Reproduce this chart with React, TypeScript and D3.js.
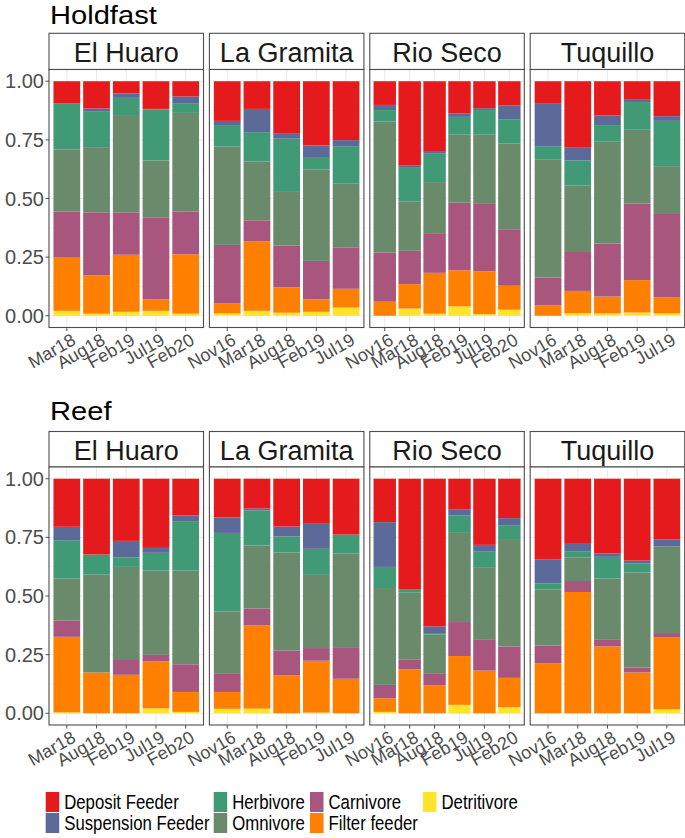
import React from "react";
import * as d3 from "d3";

// Stack order bottom -> top
const CATEGORIES = ["Detritivore", "Filter feeder", "Carnivore", "Omnivore", "Herbivore", "Suspension Feeder", "Deposit Feeder"];
const COLORS = ["#FFE42A", "#FF7F00", "#A8567E", "#6A8A6C", "#3F9A75", "#5B6A99", "#E41A1C"];

const SITES = ["El Huaro", "La Gramita", "Rio Seco", "Tuquillo"];
const HABITATS = ["Holdfast", "Reef"];

const DATES_EL_HUARO = ["Mar18", "Aug18", "Feb19", "Jul19", "Feb20"];
const DATES_LA_GRAMITA = ["Nov16", "Mar18", "Aug18", "Feb19", "Jul19"];
const DATES_RIO_SECO = ["Nov16", "Mar18", "Aug18", "Feb19", "Jul19", "Feb20"];
const DATES_TUQUILLO = ["Nov16", "Mar18", "Aug18", "Feb19", "Jul19"];

const Y_TICKS = [0, 0.25, 0.5, 0.75, 1];
const Y_TICK_LABELS = ["0.00", "0.25", "0.50", "0.75", "1.00"];

// proportions per bar: [Detritivore, Filter, Carnivore, Omnivore, Herbivore, Suspension, Deposit]
const HOLDFAST_EL_HUARO = [
  [0.021, 0.227, 0.196, 0.265, 0.196, 0.0, 0.095],
  [0.009, 0.164, 0.268, 0.278, 0.151, 0.014, 0.116],
  [0.017, 0.243, 0.181, 0.411, 0.077, 0.019, 0.052],
  [0.021, 0.049, 0.35, 0.242, 0.217, 0.003, 0.118],
  [0.009, 0.253, 0.183, 0.42, 0.039, 0.031, 0.065],
];
const HOLDFAST_LA_GRAMITA = [
  [0.01, 0.044, 0.248, 0.419, 0.092, 0.018, 0.169],
  [0.021, 0.297, 0.089, 0.251, 0.125, 0.099, 0.118],
  [0.013, 0.108, 0.178, 0.229, 0.227, 0.021, 0.224],
  [0.017, 0.053, 0.164, 0.39, 0.053, 0.049, 0.274],
  [0.035, 0.08, 0.177, 0.271, 0.16, 0.026, 0.251],
];
const HOLDFAST_RIO_SECO = [
  [0.0, 0.06, 0.21, 0.558, 0.049, 0.022, 0.101],
  [0.031, 0.104, 0.142, 0.211, 0.146, 0.006, 0.36],
  [0.009, 0.174, 0.166, 0.221, 0.121, 0.008, 0.301],
  [0.04, 0.154, 0.288, 0.29, 0.076, 0.014, 0.138],
  [0.007, 0.183, 0.287, 0.295, 0.105, 0.008, 0.115],
  [0.026, 0.102, 0.241, 0.366, 0.103, 0.058, 0.104],
];
const HOLDFAST_TUQUILLO = [
  [0.0, 0.044, 0.119, 0.502, 0.058, 0.181, 0.096],
  [0.011, 0.095, 0.166, 0.283, 0.107, 0.057, 0.281],
  [0.01, 0.072, 0.226, 0.434, 0.071, 0.041, 0.146],
  [0.014, 0.138, 0.327, 0.314, 0.118, 0.01, 0.079],
  [0.01, 0.069, 0.355, 0.204, 0.193, 0.02, 0.149],
];
const REEF_EL_HUARO = [
  [0.004, 0.322, 0.07, 0.178, 0.164, 0.057, 0.205],
  [0.0, 0.174, 0.0, 0.417, 0.086, 0.0, 0.323],
  [0.0, 0.164, 0.067, 0.393, 0.041, 0.07, 0.265],
  [0.021, 0.2, 0.028, 0.359, 0.076, 0.021, 0.295],
  [0.006, 0.085, 0.118, 0.399, 0.211, 0.024, 0.157],
];
const REEF_LA_GRAMITA = [
  [0.019, 0.072, 0.077, 0.266, 0.335, 0.066, 0.165],
  [0.02, 0.355, 0.072, 0.268, 0.15, 0.008, 0.127],
  [0.0, 0.161, 0.107, 0.417, 0.069, 0.042, 0.204],
  [0.003, 0.221, 0.054, 0.312, 0.111, 0.11, 0.189],
  [0.0, 0.147, 0.135, 0.4, 0.08, 0.0, 0.238],
];
const REEF_RIO_SECO = [
  [0.006, 0.058, 0.057, 0.413, 0.09, 0.191, 0.185],
  [0.0, 0.187, 0.041, 0.286, 0.013, 0.0, 0.473],
  [0.0, 0.12, 0.048, 0.167, 0.007, 0.028, 0.63],
  [0.036, 0.208, 0.145, 0.38, 0.074, 0.027, 0.13],
  [0.0, 0.182, 0.131, 0.31, 0.068, 0.027, 0.282],
  [0.026, 0.125, 0.134, 0.454, 0.063, 0.03, 0.168],
];
const REEF_TUQUILLO = [
  [0.0, 0.212, 0.077, 0.239, 0.025, 0.102, 0.345],
  [0.0, 0.517, 0.047, 0.101, 0.026, 0.035, 0.274],
  [0.0, 0.285, 0.028, 0.262, 0.092, 0.014, 0.319],
  [0.0, 0.174, 0.021, 0.405, 0.038, 0.013, 0.349],
  [0.017, 0.308, 0.017, 0.369, 0.0, 0.031, 0.258],
];

const SITE_DATES = [DATES_EL_HUARO, DATES_LA_GRAMITA, DATES_RIO_SECO, DATES_TUQUILLO];
const HABITAT_VALUES = [
  [HOLDFAST_EL_HUARO, HOLDFAST_LA_GRAMITA, HOLDFAST_RIO_SECO, HOLDFAST_TUQUILLO],
  [REEF_EL_HUARO, REEF_LA_GRAMITA, REEF_RIO_SECO, REEF_TUQUILLO],
];

const LEGEND_ORDER = [
  ["Deposit Feeder", "Suspension Feeder"],
  ["Herbivore", "Omnivore"],
  ["Carnivore", "Filter feeder"],
  ["Detritivore"],
];

const FONT = "'Liberation Sans', Arial, sans-serif";
const W = 685;
const H = 838;
const PANEL_X0 = 49;
const PANEL_W = 154.5;
const PANEL_GAP = 5.9;
const ROWS = [
  { titleY: 24, stripTop: 33.3, plotTop: 69.5, plotBottom: 327.5 },
  { titleY: 420, stripTop: 431.5, plotTop: 467, plotBottom: 725 },
];
const BORDER = "#4d4d4d";
const AXIS_TEXT = "#4d4d4d";
const GRID = "#ebebeb";

function Panel({ x0, row, dates, values, site }) {
  const x1 = x0 + PANEL_W;
  const n = dates.length;
  const x = d3.scaleLinear().domain([0.4, n + 0.6]).range([x0, x1]);
  const y = d3.scaleLinear().domain([-0.05, 1.05]).range([row.plotBottom, row.plotTop]);
  const bw = x(0.9) - x(0);
  const rows = values.map((v, i) => {
    const o: any = { date: dates[i], idx: i + 1 };
    CATEGORIES.forEach((c, k) => (o[c] = v[k]));
    return o;
  });
  const series = d3.stack().keys(CATEGORIES)(rows);
  const minor = [0.125, 0.375, 0.625, 0.875];
  return (
    <g>
      {/* strip */}
      <rect x={x0} y={row.stripTop} width={PANEL_W} height={row.plotTop - row.stripTop} fill="#ffffff" stroke={BORDER} strokeWidth={1.1} />
      <text x={(x0 + x1) / 2} y={row.stripTop + 28.5} textAnchor="middle" fontSize={27} fontFamily={FONT} fill="#1a1a1a">
        {site}
      </text>
      {/* panel background & grid */}
      <rect x={x0} y={row.plotTop} width={PANEL_W} height={row.plotBottom - row.plotTop} fill="#ffffff" />
      {minor.map((t) => (
        <line key={"mi" + t} x1={x0} x2={x1} y1={y(t)} y2={y(t)} stroke={GRID} strokeWidth={0.5} />
      ))}
      {Y_TICKS.map((t) => (
        <line key={"ma" + t} x1={x0} x2={x1} y1={y(t)} y2={y(t)} stroke={GRID} strokeWidth={1} />
      ))}
      {dates.map((d, i) => (
        <line key={"vx" + d} x1={x(i + 1)} x2={x(i + 1)} y1={row.plotTop} y2={row.plotBottom} stroke={GRID} strokeWidth={1} />
      ))}
      {/* bars */}
      {series.map((s, k) => (
        <g key={s.key} fill={COLORS[k]}>
          {s.map((seg, i) => {
            const h = y(seg[0]) - y(seg[1]);
            if (h <= 0.01) return null;
            return <rect key={i} x={x(i + 1) - bw / 2} y={y(seg[1])} width={bw} height={h} />;
          })}
        </g>
      ))}
      <rect x={x0} y={row.plotTop} width={PANEL_W} height={row.plotBottom - row.plotTop} fill="none" stroke={BORDER} strokeWidth={1.1} />
      {/* x ticks */}
      {dates.map((d, i) => (
        <g key={"xt" + d}>
          <line x1={x(i + 1)} x2={x(i + 1)} y1={row.plotBottom} y2={row.plotBottom + 3.5} stroke={BORDER} strokeWidth={1} />
          <text
            transform={`translate(${x(i + 1) + 10},${row.plotBottom + 16}) rotate(-30)`}
            textAnchor="end"
            fontSize={18}
            fontFamily={FONT}
            fill={AXIS_TEXT}
          >
            {d}
          </text>
        </g>
      ))}
    </g>
  );
}

export default function App() {
  return (
    <svg width={W} height={H} style={{ display: "block", position: "absolute", left: 0, top: 0, background: "#fff" }}>
      <rect x={0} y={0} width={W} height={H} fill="#ffffff" />
      {HABITATS.map((hab, r) => {
        const row = ROWS[r];
        const y = d3.scaleLinear().domain([-0.05, 1.05]).range([row.plotBottom, row.plotTop]);
        return (
          <g key={hab}>
            <text transform={`translate(50,${row.titleY}) scale(1.12,1)`} fontSize={26} fontFamily={FONT} fill="#000">
              {hab}
            </text>
            {Y_TICKS.map((t, i) => (
              <g key={"yt" + t}>
                <line x1={PANEL_X0 - 3.5} x2={PANEL_X0} y1={y(t)} y2={y(t)} stroke={BORDER} strokeWidth={1} />
                <text x={PANEL_X0 - 5} y={y(t) + 7} textAnchor="end" fontSize={20} fontFamily={FONT} fill={AXIS_TEXT}>
                  {Y_TICK_LABELS[i]}
                </text>
              </g>
            ))}
            {SITES.map((site, s) => (
              <Panel
                key={site}
                x0={PANEL_X0 + s * (PANEL_W + PANEL_GAP)}
                row={row}
                dates={SITE_DATES[s]}
                values={HABITAT_VALUES[r][s]}
                site={site}
              />
            ))}
          </g>
        );
      })}
      {/* legend */}
      {LEGEND_ORDER.map((col, c) => {
        const keyX = [45.7, 213.7, 310, 423][c];
        return col.map((name, rr) => {
          const k = CATEGORIES.indexOf(name);
          const top = 792 + rr * 21;
          return (
            <g key={name}>
              <rect x={keyX} y={top} width={13.5} height={20} fill={COLORS[k]} />
              <text
                transform={`translate(${keyX + 18.5},${top + 17}) scale(0.86,1)`}
                fontSize={19.5}
                fontFamily={FONT}
                fill="#000"
              >
                {name}
              </text>
            </g>
          );
        });
      })}
    </svg>
  );
}
